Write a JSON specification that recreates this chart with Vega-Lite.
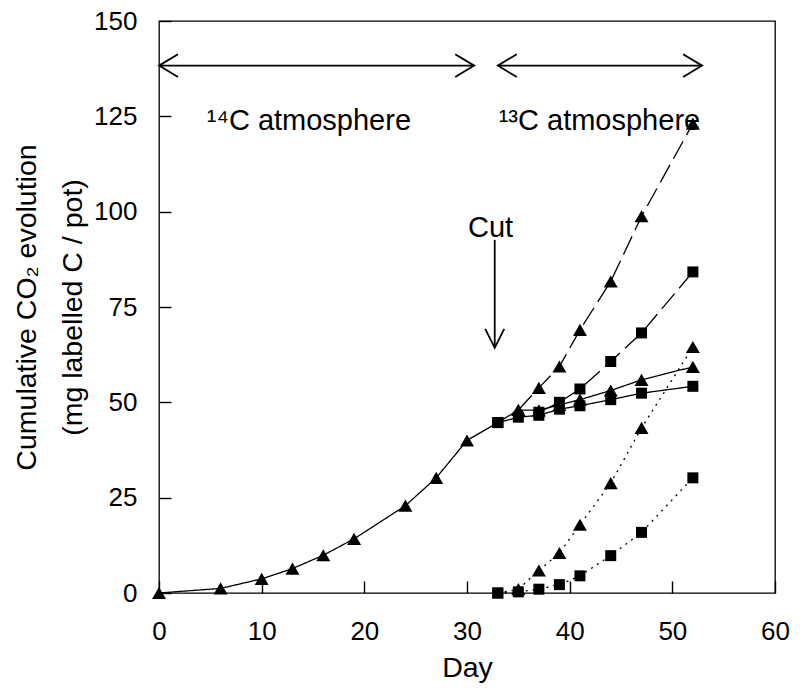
{
  "$schema": "https://vega.github.io/schema/vega-lite/v6.json",
  "width": 616,
  "height": 572,
  "autosize": {"type": "none"},
  "padding": {"left": 159, "top": 21, "right": 25, "bottom": 106},
  "background": "white",
  "config": {
    "font": "Liberation Sans",
    "view": {"stroke": "black", "strokeWidth": 1.3},
    "axis": {
      "domain": false,
      "offset": -12,
      "ticks": true,
      "tickSize": 12,
      "tickColor": "black",
      "tickWidth": 1.4,
      "grid": false,
      "labelFont": "Liberation Sans",
      "labelFontSize": 26,
      "labelColor": "black",
      "labelFlush": false,
      "titleFont": "Liberation Sans",
      "titleFontSize": 28.5,
      "titleFontWeight": "normal",
      "titleColor": "black"
    }
  },
  "resolve": {"scale": {"shape": "independent", "size": "independent"}},
  "datasets": {
    "series": [
      {"day": 0, "value": 0, "series": "pre", "marker": "triangle", "dash": "solid"},
      {"day": 6, "value": 1.2, "series": "pre", "marker": "triangle", "dash": "solid"},
      {"day": 10, "value": 3.7, "series": "pre", "marker": "triangle", "dash": "solid"},
      {"day": 13, "value": 6.4, "series": "pre", "marker": "triangle", "dash": "solid"},
      {"day": 16, "value": 9.9, "series": "pre", "marker": "triangle", "dash": "solid"},
      {"day": 19, "value": 14.2, "series": "pre", "marker": "triangle", "dash": "solid"},
      {"day": 24, "value": 22.9, "series": "pre", "marker": "triangle", "dash": "solid"},
      {"day": 27, "value": 30.2, "series": "pre", "marker": "triangle", "dash": "solid"},
      {"day": 30, "value": 40.0, "series": "pre", "marker": "triangle", "dash": "solid"},
      {"day": 33, "value": 44.7, "series": "pre", "marker": "square", "dash": "solid"},

      {"day": 33, "value": 44.7, "series": "uncut_tri", "marker": "square", "dash": "solid"},
      {"day": 35, "value": 48.0, "series": "uncut_tri", "marker": "triangle", "dash": "solid"},
      {"day": 37, "value": 47.9, "series": "uncut_tri", "marker": "triangle", "dash": "solid"},
      {"day": 39, "value": 49.3, "series": "uncut_tri", "marker": "triangle", "dash": "solid"},
      {"day": 41, "value": 50.7, "series": "uncut_tri", "marker": "triangle", "dash": "solid"},
      {"day": 44, "value": 53.1, "series": "uncut_tri", "marker": "triangle", "dash": "solid"},
      {"day": 47, "value": 55.9, "series": "uncut_tri", "marker": "triangle", "dash": "solid"},
      {"day": 52, "value": 59.3, "series": "uncut_tri", "marker": "triangle", "dash": "solid"},

      {"day": 33, "value": 44.7, "series": "cut_sq", "marker": "square", "dash": "solid"},
      {"day": 35, "value": 46.1, "series": "cut_sq", "marker": "square", "dash": "solid"},
      {"day": 37, "value": 46.6, "series": "cut_sq", "marker": "square", "dash": "solid"},
      {"day": 39, "value": 48.2, "series": "cut_sq", "marker": "square", "dash": "solid"},
      {"day": 41, "value": 49.1, "series": "cut_sq", "marker": "square", "dash": "solid"},
      {"day": 44, "value": 50.7, "series": "cut_sq", "marker": "square", "dash": "solid"},
      {"day": 47, "value": 52.4, "series": "cut_sq", "marker": "square", "dash": "solid"},
      {"day": 52, "value": 54.2, "series": "cut_sq", "marker": "square", "dash": "solid"},

      {"day": 35, "value": 48.0, "series": "total_tri", "marker": "triangle", "dash": "dashed"},
      {"day": 37, "value": 53.8, "series": "total_tri", "marker": "triangle", "dash": "dashed"},
      {"day": 39, "value": 59.4, "series": "total_tri", "marker": "triangle", "dash": "dashed"},
      {"day": 41, "value": 69.0, "series": "total_tri", "marker": "triangle", "dash": "dashed"},
      {"day": 44, "value": 81.7, "series": "total_tri", "marker": "triangle", "dash": "dashed"},
      {"day": 47, "value": 98.8, "series": "total_tri", "marker": "triangle", "dash": "dashed"},
      {"day": 52, "value": 123.1, "series": "total_tri", "marker": "triangle", "dash": "dashed"},

      {"day": 37, "value": 47.4, "series": "total_sq", "marker": "square", "dash": "dashed"},
      {"day": 39, "value": 50.0, "series": "total_sq", "marker": "square", "dash": "dashed"},
      {"day": 41, "value": 53.5, "series": "total_sq", "marker": "square", "dash": "dashed"},
      {"day": 44, "value": 60.7, "series": "total_sq", "marker": "square", "dash": "dashed"},
      {"day": 47, "value": 68.2, "series": "total_sq", "marker": "square", "dash": "dashed"},
      {"day": 52, "value": 84.2, "series": "total_sq", "marker": "square", "dash": "dashed"},

      {"day": 33, "value": 0, "series": "new_tri", "marker": "square", "dash": "dotted"},
      {"day": 35, "value": 1.0, "series": "new_tri", "marker": "triangle", "dash": "dotted"},
      {"day": 37, "value": 5.9, "series": "new_tri", "marker": "triangle", "dash": "dotted"},
      {"day": 39, "value": 10.5, "series": "new_tri", "marker": "triangle", "dash": "dotted"},
      {"day": 41, "value": 17.9, "series": "new_tri", "marker": "triangle", "dash": "dotted"},
      {"day": 44, "value": 28.8, "series": "new_tri", "marker": "triangle", "dash": "dotted"},
      {"day": 47, "value": 43.3, "series": "new_tri", "marker": "triangle", "dash": "dotted"},
      {"day": 52, "value": 64.5, "series": "new_tri", "marker": "triangle", "dash": "dotted"},

      {"day": 33, "value": 0, "series": "new_sq", "marker": "square", "dash": "dotted"},
      {"day": 35, "value": 0.3, "series": "new_sq", "marker": "square", "dash": "dotted"},
      {"day": 37, "value": 1.0, "series": "new_sq", "marker": "square", "dash": "dotted"},
      {"day": 39, "value": 2.2, "series": "new_sq", "marker": "square", "dash": "dotted"},
      {"day": 41, "value": 4.5, "series": "new_sq", "marker": "square", "dash": "dotted"},
      {"day": 44, "value": 9.8, "series": "new_sq", "marker": "square", "dash": "dotted"},
      {"day": 47, "value": 15.9, "series": "new_sq", "marker": "square", "dash": "dotted"},
      {"day": 52, "value": 30.2, "series": "new_sq", "marker": "square", "dash": "dotted"}
    ],
    "spans": [
      {"from": 0, "to": 30.7, "y": 138.3},
      {"from": 33, "to": 52.9, "y": 138.3}
    ],
    "cut": [
      {"day": 32.7, "top": 92.6, "tip": 64.3}
    ],
    "heads": [
      {"day": 0, "value": 138.3, "dir": "left"},
      {"day": 30.7, "value": 138.3, "dir": "right"},
      {"day": 33, "value": 138.3, "dir": "left"},
      {"day": 52.9, "value": 138.3, "dir": "right"},
      {"day": 32.7, "value": 64.3, "dir": "down"}
    ],
    "labels": [
      {"day": 14.6, "value": 121.5, "text": "¹⁴C atmosphere"},
      {"day": 42.9, "value": 121.5, "text": "¹³C atmosphere"},
      {"day": 32.3, "value": 93.3, "text": "Cut"}
    ]
  },
  "layer": [
    {
      "data": {"name": "series"},
      "mark": {"type": "line", "color": "black", "strokeWidth": 1.3},
      "encoding": {
        "x": {
          "field": "day", "type": "quantitative",
          "scale": {"domain": [0, 60], "nice": false},
          "axis": {"values": [0, 10, 20, 30, 40, 50, 60], "title": "Day", "labelPadding": 25, "titlePadding": 9}
        },
        "y": {
          "field": "value", "type": "quantitative",
          "scale": {"domain": [0, 150], "nice": false},
          "axis": {
            "values": [0, 25, 50, 75, 100, 125, 150],
            "title": ["Cumulative CO₂ evolution", "(mg labelled C / pot)"],
            "titleLineHeight": 46,
            "labelPadding": 22,
            "titlePadding": 6
          }
        },
        "detail": {"field": "series"},
        "strokeDash": {
          "field": "dash", "type": "nominal",
          "scale": {"domain": ["solid", "dashed", "dotted"], "range": [[1, 0], [20, 7], [2, 5]]},
          "legend": null
        }
      }
    },
    {
      "data": {"name": "series"},
      "mark": {"type": "point", "filled": true, "color": "black", "opacity": 1},
      "encoding": {
        "x": {"field": "day", "type": "quantitative"},
        "y": {"field": "value", "type": "quantitative"},
        "shape": {
          "field": "marker", "type": "nominal",
          "scale": {"domain": ["triangle", "square"], "range": ["triangle-up", "square"]},
          "legend": null
        },
        "size": {
          "field": "marker", "type": "nominal",
          "scale": {"domain": ["triangle", "square"], "range": [196, 121]},
          "legend": null
        }
      }
    },
    {
      "data": {"name": "spans"},
      "mark": {"type": "rule", "color": "black", "strokeWidth": 1.8},
      "encoding": {
        "x": {"field": "from", "type": "quantitative"},
        "x2": {"field": "to"},
        "y": {"field": "y", "type": "quantitative"}
      }
    },
    {
      "data": {"name": "cut"},
      "mark": {"type": "rule", "color": "black", "strokeWidth": 1.8},
      "encoding": {
        "x": {"field": "day", "type": "quantitative"},
        "y": {"field": "top", "type": "quantitative"},
        "y2": {"field": "tip"}
      }
    },
    {
      "data": {"name": "heads"},
      "mark": {"type": "point", "filled": false, "color": "black", "strokeWidth": 1.8, "opacity": 1},
      "encoding": {
        "x": {"field": "day", "type": "quantitative"},
        "y": {"field": "value", "type": "quantitative"},
        "shape": {
          "field": "dir", "type": "nominal",
          "scale": {
            "domain": ["left", "right", "down"],
            "range": ["M1,-0.6L0,0L1,0.6", "M-1,-0.6L0,0L-1,0.6", "M-0.5,-1L0,0L0.5,-1"]
          },
          "legend": null
        },
        "size": {
          "field": "dir", "type": "nominal",
          "scale": {"domain": ["left", "right", "down"], "range": [1444, 1444, 1024]},
          "legend": null
        }
      }
    },
    {
      "data": {"name": "labels"},
      "mark": {"type": "text", "font": "Liberation Sans", "fontSize": 29, "color": "black", "align": "center", "baseline": "alphabetic"},
      "encoding": {
        "x": {"field": "day", "type": "quantitative"},
        "y": {"field": "value", "type": "quantitative"},
        "text": {"field": "text"}
      }
    }
  ]
}
